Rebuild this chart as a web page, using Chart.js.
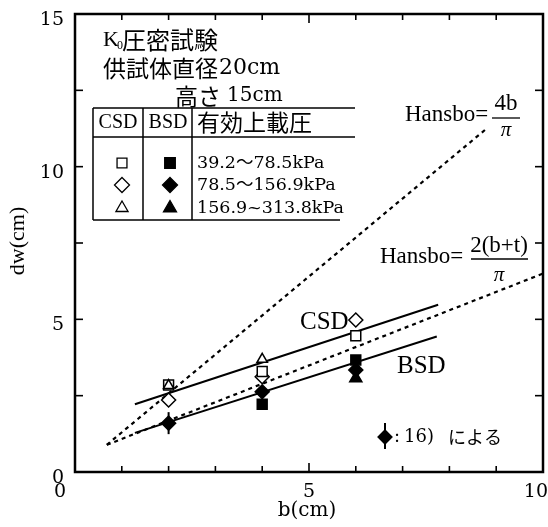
<!DOCTYPE html>
<html><head><meta charset="utf-8">
<script src="https://cdn.jsdelivr.net/npm/chart.js@4/dist/chart.umd.min.js"></script>
<style>html,body{margin:0;padding:0;background:#fff}#wrap{width:548px;height:527px}</style>
</head><body><div id="wrap"><canvas id="c" width="548" height="527"></canvas></div>
<script>
// ---- data ----
const bValues = [2, 4, 6];
const csdSquare   = [2.85, 3.29, 4.46];
const csdDiamond  = [2.36, 3.12, 4.98];
const csdTriangle = [2.83, 3.69, null];
const bsdSquare   = [null, 2.22, 3.67];
const bsdDiamond  = [null, 2.63, 3.34];
const bsdTriangle = [null, null, 3.07];
const ref16B = [2];
const ref16Dw = [1.6];
const csdFitB = [1.28, 7.76],  csdFitDw = [2.22, 5.48];
const bsdFitB = [1.28, 7.73],  bsdFitDw = [1.28, 4.44];
const hansbo4B = [0.68, 8.82], hansbo4Dw = [0.89, 11.28];
const hansbo2B = [0.68, 10],   hansbo2Dw = [0.89, 6.5];
const xTicks = [0, 5, 10];
const yTicks = [0, 5, 10, 15];
const xMinor = [0,1,2,3,4,5,6,7,8,9,10];
const yMinor = [0,2.5,5,7.5,10,12.5,15];
const rangeRows = ['39.2～78.5kPa', '78.5～156.9kPa', '156.9~313.8kPa'];

function pts(xs, ys){ return xs.map((x,i)=> ys[i]==null?null:{x:x,y:ys[i]}).filter(Boolean); }

const SERIF = '"DejaVu Serif", "Noto Sans CJK JP"';
const TIMES = '"Liberation Serif", "Noto Sans CJK JP"';
const CJK = '"Noto Sans CJK JP"';

function marker(style, r, filled, rot){
  return {pointStyle: style, pointRadius: r, pointHoverRadius: r, pointRotation: rot||0,
    pointBackgroundColor: filled ? '#000' : '#fff', pointBorderColor: '#000',
    pointBorderWidth: 1.5, showLine: false};
}
function lineDs(xs, ys, dashed){
  return {data: pts(xs, ys), showLine: true, pointRadius: 0, borderColor: '#000',
    borderWidth: dashed ? 2.2 : 2, borderDash: dashed ? [4, 4] : [], fill: false, tension: 0};
}

const datasets = [
  Object.assign({data: pts(ref16B, ref16Dw)}, marker('rectRot', 7, true)),
  Object.assign({data: pts(ref16B, ref16Dw)}, marker('line', 11, true, 90), {pointBorderWidth: 2}),
  Object.assign({data: pts(bValues, bsdSquare)}, marker('rect', 7, true)),
  Object.assign({data: pts(bValues, bsdDiamond)}, marker('rectRot', 7, true)),
  Object.assign({data: pts(bValues, bsdTriangle)}, marker('triangle', 7, true)),
  Object.assign({data: pts(bValues, csdTriangle)}, marker('triangle', 6, false)),
  Object.assign({data: pts(bValues, csdSquare)}, marker('rect', 7, false)),
  Object.assign({data: pts(bValues, csdDiamond)}, marker('rectRot', 7, false)),
  lineDs(csdFitB, csdFitDw, false),
  lineDs(bsdFitB, bsdFitDw, false),
  lineDs(hansbo4B, hansbo4Dw, true),
  lineDs(hansbo2B, hansbo2Dw, true)
];

function txt(ctx, s, x, y, font, align, base){
  ctx.font = font; ctx.textAlign = align || 'left'; ctx.textBaseline = base || 'middle';
  ctx.fillStyle = '#000'; ctx.fillText(s, x, y);
}
function seg(ctx, x1, y1, x2, y2, w){
  ctx.beginPath(); ctx.lineWidth = w; ctx.moveTo(x1, y1); ctx.lineTo(x2, y2); ctx.stroke();
}
function legendMark(ctx, style, x, y, r, filled){
  ctx.save(); ctx.beginPath(); ctx.lineWidth = 1.3; ctx.strokeStyle = '#000';
  ctx.fillStyle = filled ? '#000' : '#fff';
  if (style === 'rect'){ const s = r*0.707; ctx.rect(x-s, y-s, 2*s, 2*s); }
  else if (style === 'diamond'){ ctx.moveTo(x, y-r); ctx.lineTo(x+r, y); ctx.lineTo(x, y+r); ctx.lineTo(x-r, y); ctx.closePath(); }
  else if (style === 'triangle'){ ctx.moveTo(x, y-r); ctx.lineTo(x+r*0.866, y+r*0.5); ctx.lineTo(x-r*0.866, y+r*0.5); ctx.closePath(); }
  ctx.fill(); ctx.stroke(); ctx.restore();
}

const decor = {
  id: 'decor',
  afterDraw(chart){
    const ctx = chart.ctx, a = chart.chartArea, sx = chart.scales.x, sy = chart.scales.y;
    ctx.save();
    ctx.strokeStyle = '#000'; ctx.lineCap = 'butt';
    // frame
    ctx.lineWidth = 2.5; ctx.strokeRect(a.left, a.top, a.right - a.left, a.bottom - a.top);
    // ticks (inward)
    xMinor.forEach(v => {
      const px = sx.getPixelForValue(v), L = (v % 5 === 0) ? 9 : 6;
      seg(ctx, px, a.bottom, px, a.bottom - L, 1.6);
      seg(ctx, px, a.top, px, a.top + L, 1.6);
    });
    yMinor.forEach(v => {
      const py = sy.getPixelForValue(v), L = 8;
      seg(ctx, a.left, py, a.left + L, py, 1.6);
      seg(ctx, a.right, py, a.right - L, py, 1.6);
    });
    // tick labels
    xTicks.forEach(v => {
      const px = sx.getPixelForValue(v);
      if (v === 0) txt(ctx, String(v), px - 9, 492, '19px ' + SERIF, 'right');
      else if (v === 10) txt(ctx, String(v), px + 5, 492, '19px ' + SERIF, 'right');
      else txt(ctx, String(v), px, 492, '19px ' + SERIF, 'center');
    });
    yTicks.forEach(v => {
      const py = sy.getPixelForValue(v);
      txt(ctx, String(v), 64, py + 6, '19px ' + SERIF, 'right');
    });
    // axis titles
    txt(ctx, 'b(cm)', 307, 511, '20px ' + SERIF, 'center');
    ctx.save(); ctx.translate(18, 241); ctx.rotate(-Math.PI/2);
    txt(ctx, 'dw(cm)', 0, 0, '22px ' + TIMES, 'center'); ctx.restore();

    // title block
    txt(ctx, 'K', 103, 40, '22px ' + TIMES);
    txt(ctx, '0', 117, 46, '12px ' + TIMES);
    txt(ctx, '圧密試験', 122, 40, '24px ' + CJK);
    txt(ctx, '供試体直径', 103, 68, '23px ' + CJK);
    txt(ctx, '20cm', 219, 68, '22px ' + SERIF);
    txt(ctx, '高さ', 175, 96, '23px ' + CJK);
    txt(ctx, '15cm', 227, 96, '20px ' + SERIF);

    // table
    const L = 93, C1 = 143, C2 = 192, R = 355, T = 108, H = 137, B = 220;
    seg(ctx, L, T, R, T, 1.5); seg(ctx, L, H, R, H, 1.5); seg(ctx, L, B, 340, B, 1.5);
    seg(ctx, L, T, L, B, 1.5); seg(ctx, C1, T, C1, B, 1.5); seg(ctx, C2, T, C2, B, 1.5);
    txt(ctx, 'CSD', 118, 123, '20px ' + TIMES, 'center');
    txt(ctx, 'BSD', 168, 123, '20px ' + TIMES, 'center');
    txt(ctx, '有効上載圧', 197, 122, '23px ' + CJK);
    const rowY = [163, 185, 208];
    const styles = ['rect', 'diamond', 'triangle'];
    rowY.forEach((y, i) => {
      legendMark(ctx, styles[i], 122, y, i === 1 ? 7.5 : 7, false);
      legendMark(ctx, styles[i], 170, y, 7.5, true);
      txt(ctx, rangeRows[i], 197, y, '17.5px ' + SERIF);
    });

    // labels on plot
    txt(ctx, 'CSD', 300, 322, '25px ' + TIMES);
    txt(ctx, 'BSD', 397, 366, '25px ' + TIMES);
    txt(ctx, 'Hansbo=', 405, 115, '23px ' + TIMES);
    txt(ctx, '4b', 506, 104, '23px ' + TIMES, 'center');
    seg(ctx, 492, 118, 520, 118, 1.3);
    txt(ctx, 'π', 506, 130, 'italic 21px ' + TIMES, 'center');
    txt(ctx, 'Hansbo=', 380, 257, '23px ' + TIMES);
    txt(ctx, '2(b+t)', 499, 246, '23px ' + TIMES, 'center');
    seg(ctx, 471, 259, 528, 259, 1.3);
    txt(ctx, 'π', 499, 275, 'italic 21px ' + TIMES, 'center');
    // reference marker note
    seg(ctx, 385, 423, 385, 449, 2);
    legendMark(ctx, 'diamond', 385, 437, 7, true);
    txt(ctx, ':', 394, 437, '18px ' + SERIF);
    txt(ctx, '16)', 404, 437, '18px ' + SERIF);
    txt(ctx, 'による', 448, 437, '18px ' + CJK);
    ctx.restore();
  }
};

new Chart(document.getElementById('c'), {
  type: 'scatter',
  data: { datasets: datasets },
  options: {
    responsive: false, animation: false,
    layout: { autoPadding: false, padding: { left: 75, top: 14, right: 5, bottom: 55 } },
    plugins: { legend: { display: false }, tooltip: { enabled: false } },
    scales: {
      x: { type: 'linear', min: 0, max: 10, display: false },
      y: { type: 'linear', min: 0, max: 15, display: false }
    }
  },
  plugins: [decor]
});
</script></body></html>
